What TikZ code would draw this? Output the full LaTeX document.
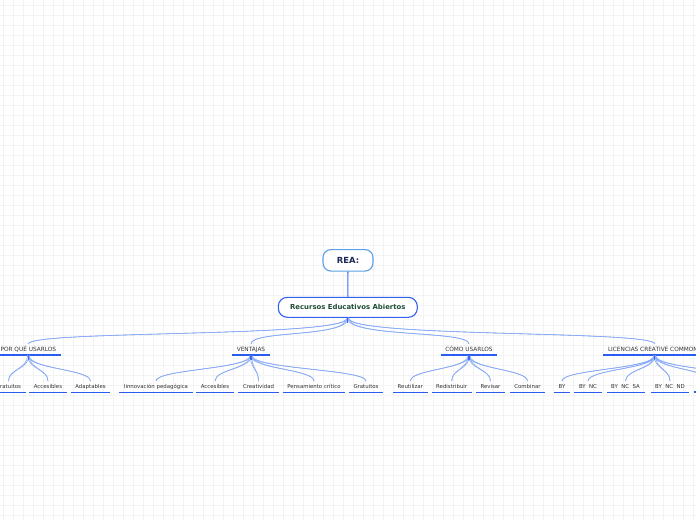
\documentclass[tikz,border=0pt]{standalone}
\usepackage{fontspec}
\setmainfont{DejaVu Sans}
\definecolor{ulc}{HTML}{2A5CF2}
\definecolor{brc}{HTML}{86A8F6}
\definecolor{stubc}{HTML}{3A6EF0}
\definecolor{reab}{HTML}{5AA0E6}
\definecolor{reat}{HTML}{1B2A55}
\definecolor{recb}{HTML}{2F62F0}
\definecolor{rect}{HTML}{1E4D35}
\definecolor{txtc}{HTML}{333333}
\definecolor{gridc}{HTML}{F3F3F3}
\newcommand\branchto[4]{%
  \draw[branch] ([xshift=-0.7pt]#1) .. controls +(0,#3) and +(0,-#4) .. (#2);
  \draw[branch] ([xshift=0.7pt]#1) .. controls +(0,#3) and +(0,-#4) .. (#2);}
\begin{document}
\begin{tikzpicture}[x=1pt,y=-1pt,
  gridline/.style={draw=gridc,line width=0.5pt},
  uline/.style={draw=ulc,line width=1.7pt},
  branch/.style={draw=brc,line width=0.6pt},
  stub/.style={draw=stubc,line width=1.2pt},
  lbl/.style={font=\fontsize{5.4}{6}\selectfont,text=txtc,inner xsep=4.5pt,inner ysep=2.7pt,
    text height=4pt,text depth=1.5pt,anchor=base,
    append after command={(\tikzlastnode.south west) edge[uline] (\tikzlastnode.south east)}},
  catlbl/.style={lbl,font=\fontsize{5.8}{6.5}\selectfont,text height=4.3pt,inner ysep=2.5pt},
  reabox/.style={draw=reab,line width=1.1pt,rounded corners=8pt,fill=white,text=reat,
    font=\fontsize{8.4}{10}\selectfont\bfseries,minimum width=50pt,minimum height=21.5pt,inner sep=0pt},
  recbox/.style={draw=recb,line width=1.1pt,rounded corners=9pt,fill=white,text=rect,
    font=\fontsize{6.9}{8}\selectfont\bfseries,minimum width=139pt,minimum height=20pt,inner sep=0pt}]
\useasboundingbox (0,0) rectangle (696,520);
\clip (0,0) rectangle (696,520);
\fill[white] (0,0) rectangle (696,520);
\foreach \i in {0,...,69} \draw[gridline] (3+10*\i,0) -- (3+10*\i,520);
\foreach \j in {0,...,51} \draw[gridline] (0,5+10*\j) -- (696,5+10*\j);

% top
\node[reabox] (rea) at (348,260.3) {REA:};
\node[recbox] (rec) at (347.8,307.3) {Recursos Educativos Abiertos};
\draw[draw=stubc,line width=1.1pt] (rea) -- (rec);

% categories
\node[catlbl] (por) at (28.3,351) {POR QUÉ USARLOS};
\node[catlbl] (ven) at (251,351) {VENTAJAS};
\node[catlbl] (como) at (469,351) {CÓMO USARLOS};
\node[catlbl,anchor=base west] (lic) at (603.3,351) {LICENCIAS CREATIVE COMMONS};

% leaves
\node[lbl] (g1) at (8.5,388) {Gratuitos};
\node[lbl] (acc1) at (48,388) {Accesibles};
\node[lbl] (adap) at (90.5,388) {Adaptables};

\node[lbl] (inn) at (156,388) {Iinnovación pedagógica};
\node[lbl] (acc2) at (215,388) {Accesibles};
\node[lbl] (cre) at (258.5,388) {Creatividad};
\node[lbl] (pen) at (314,388) {Pensamiento crítico};
\node[lbl] (gra2) at (366,388) {Gratuitos};

\node[lbl] (reu) at (410.3,388) {Reutilizar};
\node[lbl] (red) at (451.7,388) {Redistribuir};
\node[lbl] (rev) at (490.5,388) {Revisar};
\node[lbl] (com) at (527.5,388) {Combinar};

\node[lbl] (by) at (562,388) {BY};
\node[lbl] (bync) at (588,388) {BY~~NC};
\node[lbl] (byncsa) at (625.5,388) {BY~~NC~~SA};
\node[lbl] (byncnd) at (670,388) {BY~~NC~~ND};
\coordinate (off1) at (712,381.5);
\coordinate (off2) at (750,381.5);
\coordinate (offl) at (693.5,392.2);
\coordinate (offr) at (730,392.2);
\draw[uline] (offl) -- (offr);

% root branches
\branchto{rec.south}{por.north}{20}{14}
\branchto{rec.south}{ven.north}{20}{14}
\branchto{rec.south}{como.north}{20}{14}
\branchto{rec.south}{lic.north}{20}{14}
\draw[stub] (rec.south) -- ++(0,5);

% category branches
\foreach \c in {g1,acc1,adap} {\branchto{por.south}{\c.north}{14}{12}}
\foreach \c in {inn,acc2,cre,pen,gra2} {\branchto{ven.south}{\c.north}{14}{12}}
\foreach \c in {reu,red,rev,com} {\branchto{como.south}{\c.north}{14}{12}}
\foreach \c in {by,bync,byncsa,byncnd} {\branchto{lic.south}{\c.north}{14}{12}}
\branchto{lic.south}{off1}{14}{12}
\branchto{lic.south}{off2}{14}{12}
\foreach \c in {por,ven,como,lic} {\draw[stub] (\c.south) -- ++(0,5);}
\end{tikzpicture}
\end{document}
